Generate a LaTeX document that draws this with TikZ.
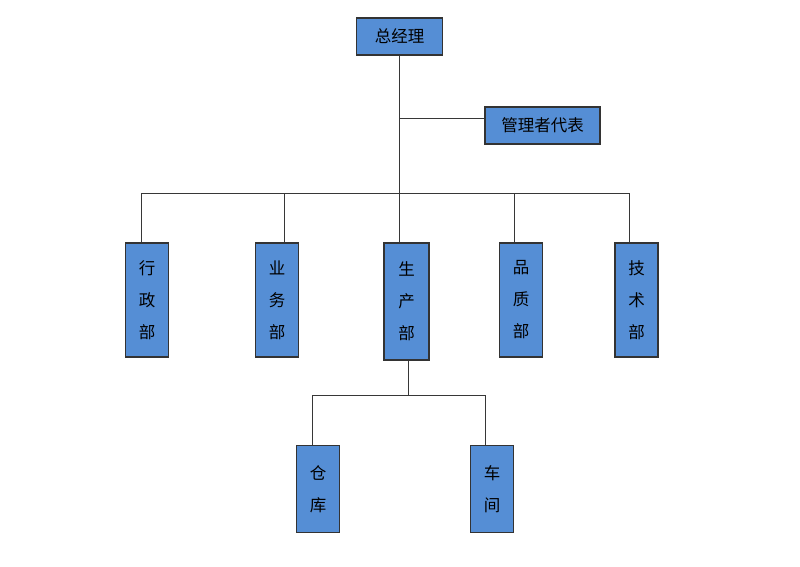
\documentclass[tikz,border=0pt]{standalone}
\usepackage{fontspec}
\setmainfont{Noto Sans CJK SC}
\definecolor{boxblue}{RGB}{85,142,213}
\definecolor{linegray}{RGB}{55,55,55}
\begin{document}
\begin{tikzpicture}[x=1pt,y=-1pt]
  \tikzstyle{every node}=[draw=black!80,line width=1.1pt,fill=boxblue,inner sep=0pt,
                          font=\fontsize{16.5}{32}\selectfont,align=center]
  \tikzstyle{wide}=[minimum height=37pt]
  \tikzstyle{dept}=[minimum width=43pt,minimum height=114pt]
  \tikzstyle{shop}=[minimum width=43pt,minimum height=87pt]
  \tikzstyle{link}=[draw=linegray,line width=1.5pt]
  \useasboundingbox (0,0) rectangle (800,567);
  % top
  \node[wide,minimum width=86pt]  (gm)  at (399.5,36.5) {总经理};
  \node[wide,minimum width=115pt] (rep) at (542.5,125.5) {管理者代表};
  % departments
  \node[dept] (xz) at (147,300)   {行\\政\\部};
  \node[dept] (yw) at (277,300)   {业\\务\\部};
  \node[dept,minimum width=45pt,minimum height=117pt] (sc) at (406.5,301.5) {生\\产\\部};
  \node[dept] (pz) at (521,300)   {品\\质\\部};
  \node[dept] (js) at (636.5,300) {技\\术\\部};
  % workshops
  \node[shop] (ck) at (318,489) {仓\\库};
  \node[shop] (cj) at (492,489) {车\\间};
  \coordinate (bus)  at (399.5,193.5);
  \coordinate (bus2) at (408.5,395.5);
  \coordinate (tap)  at ([yshift=7pt]rep.west);
  \draw[link] (gm.south) -- (bus);
  \draw[link] (gm.south |- tap) -- (tap);
  \draw[link] ([xshift=-5.5pt]xz.north) |- (bus) -| ([xshift=-7pt]js.north);
  \draw[link] ([xshift=7.5pt]yw.north) -- ([xshift=7.5pt]yw.north |- bus);
  \draw[link] ([xshift=-7pt]sc.north) -- ([xshift=-7pt]sc.north |- bus);
  \draw[link] ([xshift=-6.5pt]pz.north) -- ([xshift=-6.5pt]pz.north |- bus);
  \draw[link] ([xshift=2pt]sc.south) -- (bus2);
  \draw[link] ([xshift=-5.5pt]ck.north) |- (bus2) -| ([xshift=-6.5pt]cj.north);
\end{tikzpicture}
\end{document}
